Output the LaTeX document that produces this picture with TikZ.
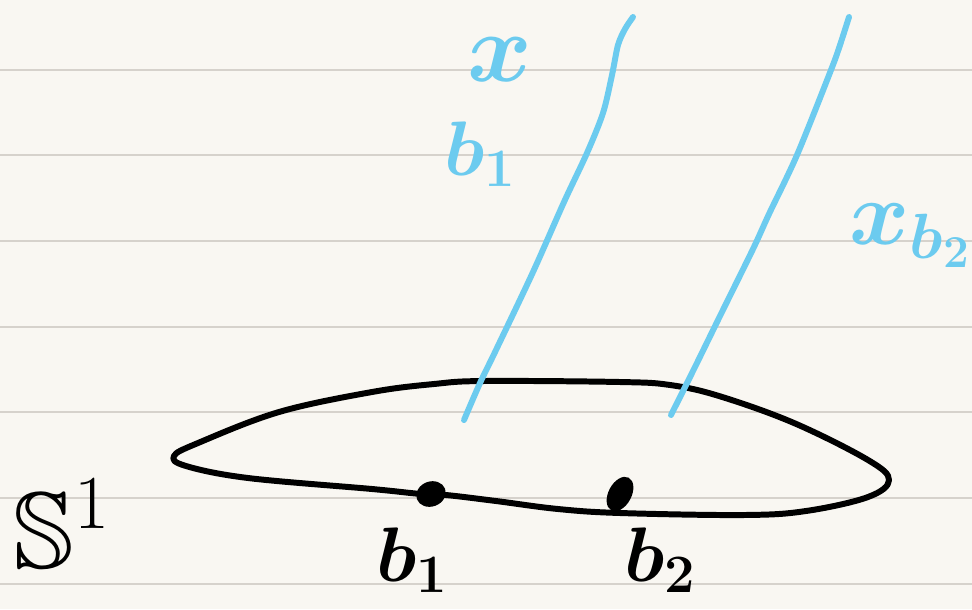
\RequirePackage{fix-cm}
\documentclass[tikz,border=0pt]{standalone}
\usepackage{amssymb}
\usetikzlibrary{shapes.geometric}
\definecolor{paper}{HTML}{F9F7F2}
\definecolor{ruling}{HTML}{D6D2CC}
\definecolor{sky}{HTML}{6CCBEF}
\begin{document}
\begin{tikzpicture}[x=0.02cm, y=-0.02cm,
    fiber/.style={sky, line width=3.4pt, line cap=round, line join=round},
    circleline/.style={black, line width=3.4pt, line cap=round, line join=round},
    basept/.style={ellipse, fill=black, inner sep=0pt},
    lbl/.style={font=\fontsize{44}{48}\selectfont\boldmath, inner sep=0pt}]
  % paper and ruling
  \fill[paper] (0, 0) rectangle (972, 609);
  \useasboundingbox (0, 0) rectangle (972, 609);
  \foreach \yy in {70, 155, 241, 327, 412, 498, 584}
    \draw[ruling, line width=1.1pt] (0, \yy) -- (972, \yy);

  % the circle S^1, drawn flat
  \draw[circleline] plot[smooth cycle, tension=0.6] coordinates {
    (174,456) (198,443) (279,412) (372,392) (434,384) (484,381) (620,382)
    (670,385) (719,396) (794,423) (868,460) (889,480) (868,497) (806,511)
    (744,515) (620,513) (558,509) (496,501) (446,495) (421,494) (372,489)
    (248,478) (186,466)};
  \node[lbl, font=\fontsize{62}{66}\selectfont] (circ) at (62, 524) {$\mathbb{S}^1$};

  % base points
  \node[basept, minimum width=0.6cm, minimum height=0.5cm, rotate=20] (bone) at (431, 494) {};
  \node[basept, minimum width=0.74cm, minimum height=0.46cm, rotate=62] (btwo) at (620, 494) {};
  \node[lbl] (bonelbl) at (412, 560) {$b_1$};
  \node[lbl] (btwolbl) at (660, 560) {$b_2$};

  % fibres over b_1 and b_2
  \draw[fiber] plot[smooth, tension=0.5] coordinates {
    (464,420) (480,383) (496,350) (533,272) (564,202) (587,153) (603,113)
    (612,75) (618,45) (625,29) (633,17)};
  \draw[fiber] plot[smooth, tension=0.5] coordinates {
    (671,415) (694,369) (719,318) (753,249) (769,214) (797,155) (831,70)
    (840,45) (849,17)};

  % fibre labels
  \node[lbl, sky, font=\fontsize{56}{60}\selectfont\boldmath] (xone) at (500, 60) {$x$};
  \node[lbl, sky] (bonefib) at (480, 154) {$b_1$};
  \node[lbl, sky, font=\fontsize{52}{56}\selectfont\boldmath] (xtwo) at (910, 236) {$x_{b_2}$};
\end{tikzpicture}
\end{document}
